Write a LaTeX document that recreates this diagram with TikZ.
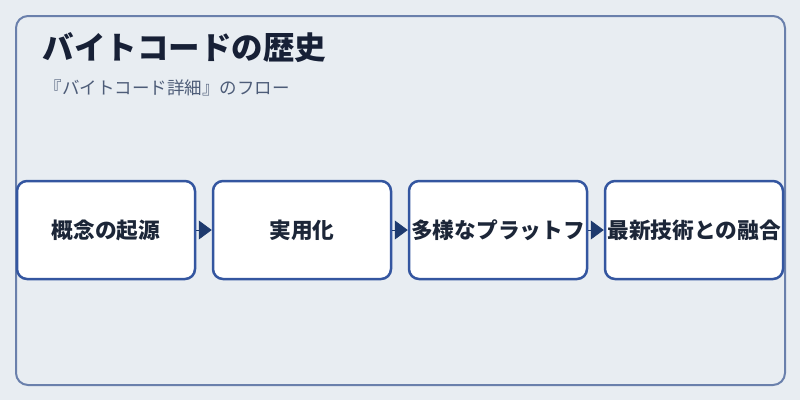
\documentclass[tikz,border=0pt]{standalone}
\usepackage{fontspec}
\setmainfont{Noto Sans CJK JP}
\usetikzlibrary{positioning,arrows.meta}
\definecolor{pagebg}{HTML}{E8EDF2}
\definecolor{framecol}{HTML}{6A80AC}
\definecolor{boxcol}{HTML}{3456A0}
\definecolor{arrowcol}{HTML}{1E3A6E}
\definecolor{titlecol}{HTML}{172036}
\definecolor{subcol}{HTML}{4D5C78}
\definecolor{textcol}{HTML}{1C2638}
\tikzset{
  stagebox/.style={draw=boxcol, line width=2.5pt, fill=white, rounded corners=10pt,
    minimum width=178pt, minimum height=98pt, inner sep=0pt,
    text=textcol, font=\fontsize{21.7pt}{24pt}\selectfont\bfseries},
  flowarrow/.style={draw=arrowcol, line width=0.8pt,
    -{Triangle[length=13pt,width=19pt]}, fill=arrowcol}
}
\begin{document}
\begin{tikzpicture}[x=1pt,y=-1pt]
  % Background and frame
  \fill[pagebg] (0,0) rectangle (800,400);
  \useasboundingbox (0,0) rectangle (800,400);
  \draw[framecol, line width=2pt, rounded corners=12pt] (16,16) rectangle (785,385);

  % Title and subtitle
  \node[anchor=west, text=titlecol, font=\fontsize{31.5pt}{34pt}\selectfont\bfseries]
    (title) at (39,48) {バイトコードの歴史};
  \node[anchor=west, text=subcol, font=\fontsize{17.5pt}{20pt}\selectfont]
    (subtitle) at (41,88) {『バイトコード詳細』のフロー};

  % Stages
  \node[stagebox] (origin) at (106,230) {概念の起源};
  \node[stagebox, right=15.5pt of origin] (practical) {実用化};
  \node[stagebox, right=15.5pt of practical] (platform) {多様なプラットフ};
  \node[stagebox, right=15.5pt of platform] (modern) {最新技術との融合};

  % Connectors
  \draw[flowarrow] (origin) -- (practical);
  \draw[flowarrow] (practical) -- (platform);
  \draw[flowarrow] (platform) -- (modern);
\end{tikzpicture}
\end{document}
